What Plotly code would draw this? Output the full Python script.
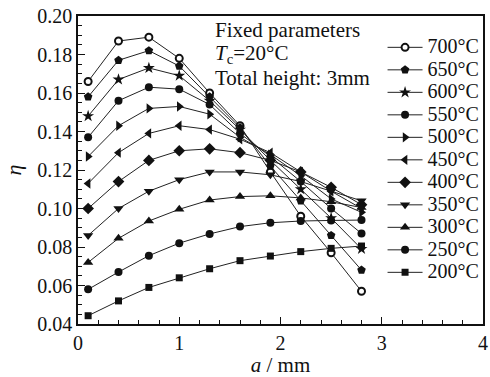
import plotly.graph_objects as go

a_mm = [0.1, 0.4, 0.7, 1.0, 1.3, 1.6, 1.9, 2.2, 2.5, 2.8]

labels = ["700°C", "650°C", "600°C", "550°C", "500°C", "450°C",
          "400°C", "350°C", "300°C", "250°C", "200°C"]

eta_700 = [0.166, 0.187, 0.189, 0.178, 0.160, 0.143, 0.119, 0.096, 0.077, 0.057]
eta_650 = [0.158, 0.177, 0.182, 0.174, 0.158, 0.142, 0.122, 0.104, 0.086, 0.068]
eta_600 = [0.148, 0.167, 0.173, 0.169, 0.156, 0.141, 0.125, 0.110, 0.095, 0.079]
eta_550 = [0.137, 0.156, 0.163, 0.162, 0.154, 0.139, 0.127, 0.114, 0.100, 0.087]
eta_500 = [0.127, 0.143, 0.152, 0.153, 0.149, 0.137, 0.128, 0.117, 0.105, 0.098]
eta_450 = [0.113, 0.129, 0.139, 0.143, 0.141, 0.136, 0.129, 0.119, 0.109, 0.100]
eta_400 = [0.100, 0.114, 0.125, 0.130, 0.131, 0.129, 0.125, 0.119, 0.111, 0.102]
eta_350 = [0.086, 0.100, 0.109, 0.115, 0.119, 0.119, 0.1175, 0.114, 0.109, 0.104]
eta_300 = [0.072, 0.0845, 0.0935, 0.0996, 0.1044, 0.1062, 0.1066, 0.1055, 0.1035, 0.1005]
eta_250 = [0.058, 0.067, 0.0755, 0.082, 0.0868, 0.0906, 0.0926, 0.0935, 0.0938, 0.094]
eta_200 = [0.0443, 0.052, 0.059, 0.064, 0.0687, 0.0729, 0.0753, 0.0776, 0.0793, 0.0805]

series = [eta_700, eta_650, eta_600, eta_550, eta_500, eta_450,
          eta_400, eta_350, eta_300, eta_250, eta_200]
symbols = ["open", "pentagon", "star", "circle", "triangle-right",
           "triangle-left", "diamond", "triangle-down", "triangle-up",
           "circle", "square"]
sizes = [7, 9, 9, 8, 9, 9, 9, 9, 9, 8, 7]

FONT = "Liberation Serif"
INK = "#111111"
fig = go.Figure()
for lab, ys, sym, sz in zip(labels, series, symbols, sizes):
    if sym == "open":
        marker = dict(symbol="circle", size=sz, color="white",
                      line=dict(color=INK, width=2))
    else:
        marker = dict(symbol=sym, size=sz, color=INK)
    fig.add_trace(go.Scatter(
        x=a_mm, y=ys, mode="lines+markers",
        name="<span style='font-size:20px'>" + lab + "</span>",
        line=dict(color="#222222", width=1),
        marker=marker,
    ))

axis_common = dict(
    showline=True, linecolor=INK, linewidth=1.5, mirror=True,
    ticks="inside", ticklen=7, tickwidth=1.2, tickcolor=INK,
    showgrid=False, zeroline=False,
    tickfont=dict(family=FONT, size=20, color=INK),
)
fig.update_xaxes(range=[0, 4], dtick=1, ticklabeloverflow="allow",
                 minor=dict(dtick=0.2, ticks="inside", ticklen=4, tickcolor=INK),
                 title=dict(text="<i>a</i> / mm", font=dict(family=FONT, size=21, color=INK),
                            standoff=5),
                 **axis_common)
fig.update_yaxes(range=[0.04, 0.20], dtick=0.02, tickformat=".2f",
                 minor=dict(dtick=0.005, ticks="inside", ticklen=4, tickcolor=INK),
                 title=dict(text="<i>η</i>", font=dict(family=FONT, size=22, color=INK),
                            standoff=10),
                 **axis_common)

anno_font = dict(family=FONT, size=21, color=INK)
texts = ["Fixed parameters", "<i>T</i><sub>c</sub>=20°C", "Total height: 3mm"]
ys_anno = [0.9545, 0.877, 0.800]
for t, yv in zip(texts, ys_anno):
    fig.add_annotation(x=0.333, y=yv, xref="paper", yref="paper",
                       xanchor="left", yanchor="middle", text=t, showarrow=False,
                       font=anno_font)

fig.update_layout(
    width=490, height=377,
    margin=dict(l=78, r=2, t=16, b=53),
    paper_bgcolor="white", plot_bgcolor="white",
    font=dict(family=FONT, color=INK),
    legend=dict(x=0.752, y=0.951, xanchor="left", yanchor="top",
                bgcolor="rgba(0,0,0,0)", font=dict(family=FONT, size=15, color=INK),
                itemwidth=35, tracegroupgap=0),
)
fig.write_html("out.html", config={"displayModeBar": False},
               post_script="document.body.style.margin='0';document.body.style.padding='0';document.body.style.overflow='hidden';")
